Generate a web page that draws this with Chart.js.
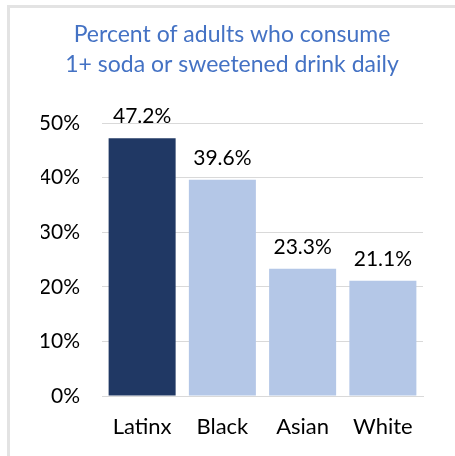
<!DOCTYPE html>
<html>
<head>
<meta charset="utf-8">
<script src="https://cdn.jsdelivr.net/npm/chart.js@4"></script>
<style>
  html, body { margin: 0; padding: 0; background: #fff; }
  #wrap { position: relative; width: 455px; height: 456px; }
  #frame { position: absolute; left: 7px; top: 5px; right: 0; bottom: 0;
           border-left: 3px solid #e3e3e3; border-top: 3px solid #e3e3e3; pointer-events: none; }
  canvas { position: absolute; left: 0; top: 0; }
</style>
</head>
<body>
<div id="wrap">
  <canvas id="c" width="455" height="456"></canvas>
  <div id="frame"></div>
</div>
<script>
const categories = ["Latinx", "Black", "Asian", "White"];
const values = [47.2, 39.6, 23.3, 21.1];
const barColors = ["#203864", "#b4c7e7", "#b4c7e7", "#b4c7e7"];
const titleLines = ["Percent of adults who consume", "1+ soda or sweetened drink daily"];
const yMax = 50;
const yStep = 10;

const FONT = "Lato, 'Noto Sans', sans-serif";

const labelPlugin = {
  id: "barLabels",
  afterDatasetsDraw(chart) {
    const ctx = chart.ctx;
    const meta = chart.getDatasetMeta(0);
    ctx.save();
    ctx.font = "21px " + FONT;
    ctx.fillStyle = "#000";
    ctx.textAlign = "center";
    ctx.textBaseline = "alphabetic";
    meta.data.forEach((bar, i) => {
      ctx.fillText(values[i].toFixed(1) + "%", bar.x, bar.y - 15);
    });
    ctx.restore();
  }
};

new Chart(document.getElementById("c"), {
  type: "bar",
  data: {
    labels: categories,
    datasets: [{
      data: values,
      backgroundColor: barColors,
      barPercentage: 0.835,
      categoryPercentage: 1.0
    }]
  },
  options: {
    responsive: false,
    animation: false,
    layout: { padding: { left: 41, right: 32, top: 0, bottom: 0 } },
    plugins: {
      legend: { display: false },
      tooltip: { enabled: false },
      title: {
        display: true,
        text: titleLines,
        color: "#4472c4",
        font: { family: FONT, size: 23, weight: "normal", lineHeight: 30 / 23 },
        padding: { top: 20, bottom: 43 }
      }
    },
    scales: {
      x: {
        grid: { display: false, drawTicks: false },
        border: { display: true, color: "#d9d9d9", width: 1 },
        ticks: { color: "#000", font: { family: FONT, size: 22 }, padding: 18 },
        afterFit(scale) { scale.height = 60; }
      },
      y: {
        min: 0,
        max: yMax,
        ticks: {
          stepSize: yStep,
          color: "#000",
          font: { family: FONT, size: 21 },
          padding: 22,
          callback: v => v + "%"
        },
        grid: { color: "#d9d9d9", drawTicks: false },
        border: { display: false },
        afterFit(scale) { scale.width = 61; }
      }
    }
  },
  plugins: [labelPlugin]
});
</script>
</body>
</html>
